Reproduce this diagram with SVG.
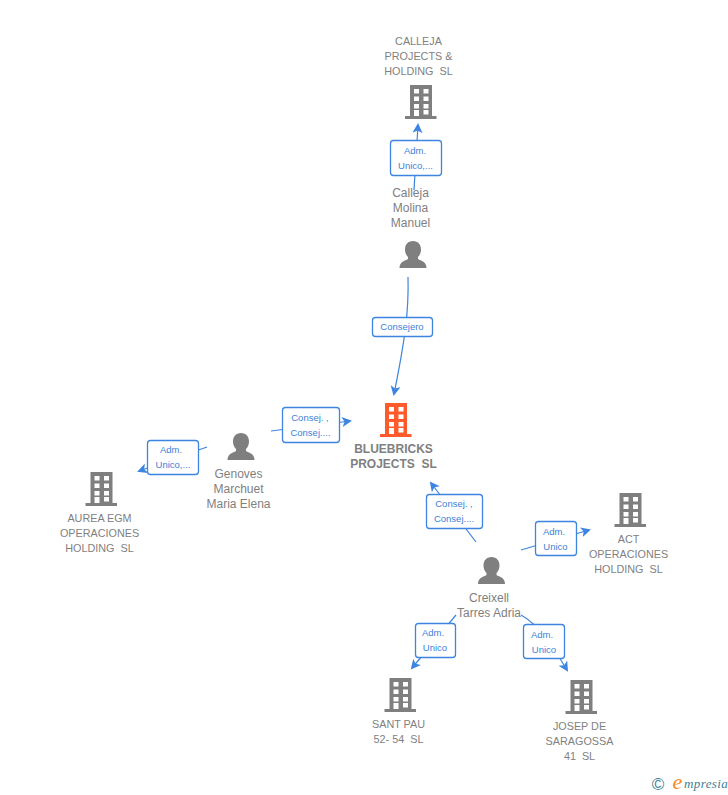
<svg xmlns="http://www.w3.org/2000/svg" width="728" height="795" viewBox="0 0 728 795">
<style>
text{font-family:"Liberation Sans",Arial,sans-serif;font-size:10.800px;fill:#7f7f7f;text-anchor:middle;white-space:pre}
.n text{font-size:12px}
.b{font-weight:bold;font-size:12px}
.l rect{fill:#fff;stroke:#3d85e0;stroke-width:1.3}
.l text{font-size:9.500px;fill:#3d7fd9}
.c path{fill:none;stroke:#3d85e0;stroke-width:1.2}
</style>
<defs>
<marker id="a" markerWidth="12" markerHeight="12" refX="8" refY="5" orient="auto" markerUnits="userSpaceOnUse"><path d="M0 0L10 5L0 10L2.500 5Z" fill="#3d85e0"/></marker>
<g id="bld"><path d="M-10.500 0H11.500V31H16V34H-15.500V31H-10.500Z"/><g fill="#fff"><rect x="-6.500" y="4" width="5" height="4.500"/><rect x="3" y="4" width="5" height="4.500"/><rect x="-6.500" y="11.500" width="5" height="4.500"/><rect x="3" y="11.500" width="5" height="4.500"/><rect x="-6.500" y="19" width="5" height="4.500"/><rect x="3" y="19" width="5" height="4.500"/><rect x="-6.500" y="25" width="5" height="6"/><rect x="3" y="25" width="5" height="4.500"/></g></g>
<path id="per" d="M0 0C5 0 8 3.500 8 8.500C8 12 6.500 14.500 5 16V18C8 20 13.500 20.500 13.500 27H-13.500C-13.500 20.500 -8 20 -5 18V16C-6.500 14.500 -8 12 -8 8.500C-8 3.500 -5 0 0 0Z"/>
</defs>
<g id="connectors" class="c">
<path d="M414 190L418 125" marker-end="url(#a)"/>
<path d="M408 277C409 310 405 340 394 394" marker-end="url(#a)"/>
<path d="M271 431L350 421" marker-end="url(#a)"/>
<path d="M207 447L139 471" marker-end="url(#a)"/>
<path d="M476 542L431 483" marker-end="url(#a)"/>
<path d="M521 550L589 530" marker-end="url(#a)"/>
<path d="M456 615L412 668" marker-end="url(#a)"/>
<path d="M521 615C540 625 555 650 567 670" marker-end="url(#a)"/>
</g>
<g id="n1"><use href="#bld" x="420.500" y="85" fill="#7f7f7f"/><text x="418.500" y="45">CALLEJA</text><text x="418.500" y="60">PROJECTS &amp;</text><text x="418.500" y="75">HOLDING  SL</text></g>
<g id="n2" class="n"><use href="#per" x="413" y="241" fill="#7f7f7f"/><text x="410.500" y="197">Calleja</text><text x="410.500" y="212">Molina</text><text x="410.500" y="227">Manuel</text></g>
<g id="n3"><use href="#bld" x="395.500" y="403" fill="#ff5a2b"/><text class="b" x="393.500" y="453">BLUEBRICKS</text><text class="b" x="393.500" y="468">PROJECTS  SL</text></g>
<g id="n4" class="n"><use href="#per" x="241" y="433" fill="#7f7f7f"/><text x="238.500" y="478">Genoves</text><text x="238.500" y="493">Marchuet</text><text x="238.500" y="508">Maria Elena</text></g>
<g id="n5"><use href="#bld" x="101" y="472" fill="#7f7f7f"/><text x="99.500" y="522">AUREA EGM</text><text x="99.500" y="537">OPERACIONES</text><text x="99.500" y="552">HOLDING  SL</text></g>
<g id="n6" class="n"><use href="#per" x="491.500" y="557" fill="#7f7f7f"/><text x="489" y="602">Creixell</text><text x="489" y="617">Tarres Adria</text></g>
<g id="n7"><use href="#bld" x="630" y="493" fill="#7f7f7f"/><text x="628.500" y="543">ACT</text><text x="628.500" y="558">OPERACIONES</text><text x="628.500" y="573">HOLDING  SL</text></g>
<g id="n8"><use href="#bld" x="400" y="678" fill="#7f7f7f"/><text x="398.500" y="728">SANT PAU</text><text x="398.500" y="743">52- 54  SL</text></g>
<g id="n9"><use href="#bld" x="581" y="680" fill="#7f7f7f"/><text x="579.500" y="730">JOSEP DE</text><text x="579.500" y="745">SARAGOSSA</text><text x="579.500" y="760">41  SL</text></g>
<g id="labels" class="l">
<g><rect x="390.500" y="140.500" width="51" height="35" rx="3"/><text x="415" y="154">Adm.</text><text x="415.500" y="169">Unico,...</text></g>
<g><rect x="372.500" y="317.500" width="60" height="19" rx="3"/><text x="402" y="330">Consejero</text></g>
<g><rect x="282.500" y="407.500" width="57" height="35" rx="3"/><text x="310" y="421">Consej. ,</text><text x="310.500" y="436">Consej....</text></g>
<g><rect x="147.500" y="440.500" width="51" height="34" rx="3"/><text x="171" y="453">Adm.</text><text x="173" y="468">Unico,...</text></g>
<g><rect x="426.500" y="494.500" width="56" height="34" rx="3"/><text x="454" y="507">Consej. ,</text><text x="454" y="522">Consej....</text></g>
<g><rect x="535.500" y="521.500" width="41" height="34" rx="3"/><text x="554" y="535">Adm.</text><text x="555.500" y="550">Unico</text></g>
<g><rect x="415.500" y="623.500" width="40" height="34" rx="3"/><text x="433" y="636">Adm.</text><text x="435" y="651">Unico</text></g>
<g><rect x="523.500" y="624.500" width="41" height="34" rx="3"/><text x="542" y="638">Adm.</text><text x="544" y="653">Unico</text></g>
</g>
<g id="brand"><text x="658" y="790" style="font-size:17px;fill:#3f7f96">©</text><text x="677.500" y="789" style="font-family:'Liberation Serif',serif;font-style:italic;font-size:22px;fill:#f58a1f">e</text><text x="684" y="788" style="font-family:'Liberation Serif',serif;font-style:italic;font-size:13px;letter-spacing:.4px;text-anchor:start;fill:#3f7f96">mpresia</text></g>
</svg>
